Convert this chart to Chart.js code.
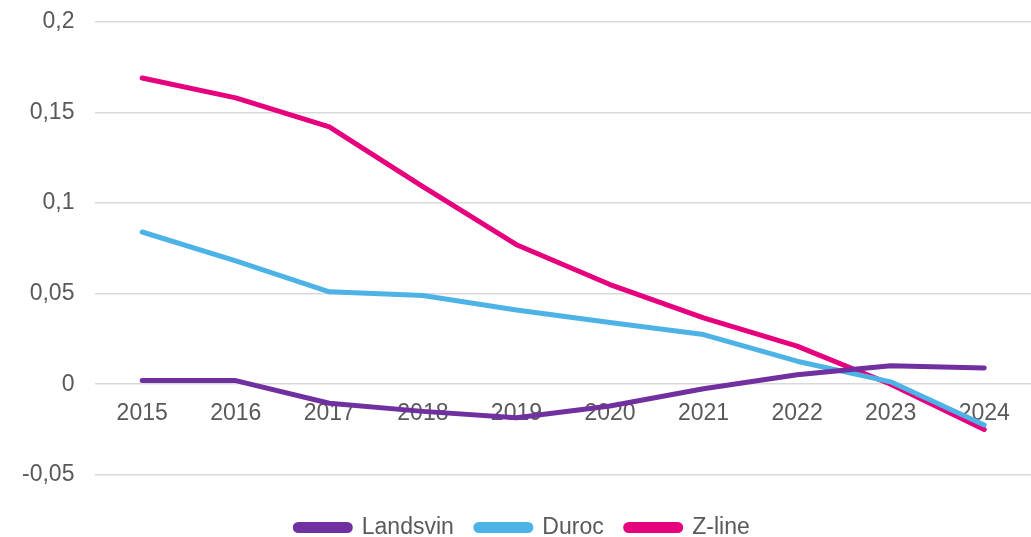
<!DOCTYPE html>
<html>
<head>
<meta charset="utf-8">
<script src="https://cdn.jsdelivr.net/npm/chart.js@4"></script>
<style>
  html, body { margin: 0; padding: 0; background: #fff; }
  #wrap { width: 1031px; height: 537px; }
</style>
</head>
<body>
<div id="wrap"><canvas id="myChart"></canvas></div>
<script>
const years = ['2015', '2016', '2017', '2018', '2019', '2020', '2021', '2022', '2023', '2024'];
const landsvin = [0.002, 0.002, -0.0105, -0.015, -0.0185, -0.012, -0.0025, 0.0052, 0.0102, 0.009];
const duroc = [0.084, 0.068, 0.051, 0.049, 0.041, 0.034, 0.0274, 0.0127, 0.0013, -0.0225];
const zline = [0.169, 0.158, 0.142, 0.109, 0.077, 0.055, 0.0366, 0.021, 0.0, -0.025];

const textColor = '#595959';
const fontFamily = '"Liberation Sans", Arial, sans-serif';

function lineSet(label, data, color) {
    return {
        label: label,
        data: data,
        borderColor: color,
        backgroundColor: color,
        borderWidth: 5,
        borderCapStyle: 'round',
        borderJoinStyle: 'round',
        pointRadius: 0,
        pointHoverRadius: 0,
        tension: 0
    };
}

const ctx = document.getElementById('myChart').getContext('2d');
new Chart(ctx, {
    type: 'line',
    data: {
        labels: years,
        datasets: [
            lineSet('Landsvin', landsvin, '#7030A0'),
            lineSet('Duroc', duroc, '#4DB3E6'),
            lineSet('Z-line', zline, '#E6007E')
        ]
    },
    options: {
        responsive: true,
        maintainAspectRatio: false,
        animation: false,
        layout: {
            padding: { top: 0, left: 14, right: 0, bottom: -12 }
        },
        scales: {
            y: {
                min: -0.05,
                max: 0.2,
                border: { display: false },
                // invisible tick marks push the labels left without adding top padding
                grid: { color: '#d9d9d9', lineWidth: 1.5, drawTicks: true, tickLength: 13, tickColor: 'rgba(0,0,0,0)' },
                ticks: {
                    stepSize: 0.05,
                    padding: 8,
                    color: textColor,
                    font: { family: fontFamily, size: 23 },
                    callback: function(v) {
                        return String(Math.round(v * 100) / 100).replace('.', ',');
                    }
                }
            },
            x: {
                position: { y: 0 },
                offset: true,
                border: { display: false },
                grid: { display: false, drawTicks: false, offset: true },
                ticks: {
                    padding: 16,
                    color: textColor,
                    font: { family: fontFamily, size: 23 }
                }
            }
        },
        plugins: {
            legend: {
                position: 'bottom',
                // empty title only adds room above the legend items
                title: { display: true, text: ' ', font: { size: 1 }, padding: { top: 18, bottom: 0 } },
                labels: {
                    boxWidth: 55,
                    boxHeight: 6,
                    useBorderRadius: true,
                    borderRadius: 3,
                    padding: 22,
                    color: textColor,
                    font: { family: fontFamily, size: 23 }
                }
            },
            tooltip: { enabled: false }
        }
    }
});
</script>
</body>
</html>
